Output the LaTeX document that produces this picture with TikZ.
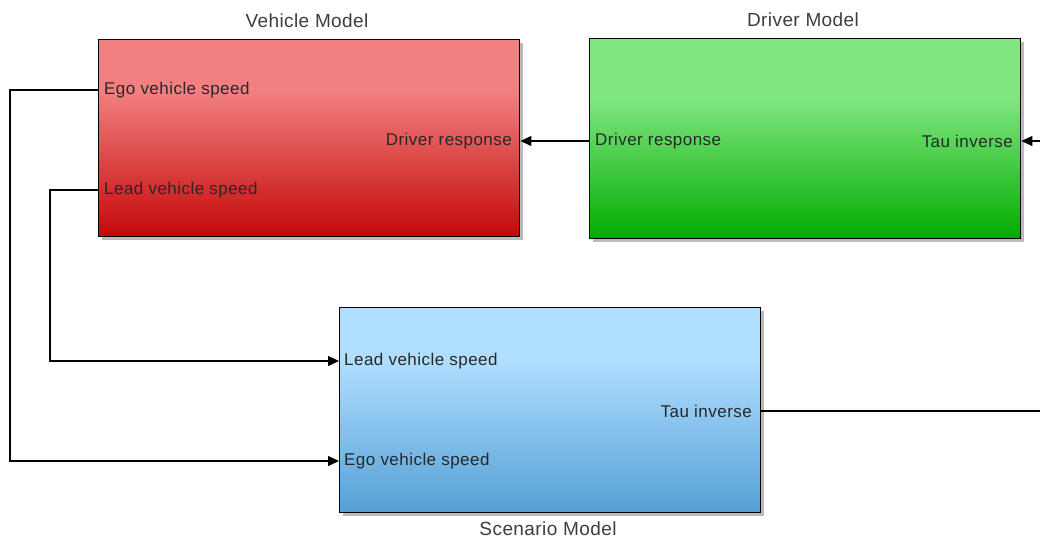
\documentclass[tikz,border=0pt]{standalone}
\usepackage{fontspec}
\setmainfont{Liberation Sans}
\newfontfamily\titlefont[LetterSpace=2.2]{Liberation Sans}
\newfontfamily\portfont[LetterSpace=2.7]{Liberation Sans}
\usepackage{tikz}
\usetikzlibrary{arrows.meta,shadows,calc}

\definecolor{vehtop}{RGB}{242,128,128}
\definecolor{vehbot}{RGB}{196,8,8}
\definecolor{drvtop}{RGB}{128,230,128}
\definecolor{drvbot}{RGB}{0,172,0}
\definecolor{scntop}{RGB}{175,222,255}
\definecolor{scnbot}{RGB}{84,160,214}
\definecolor{txtgray}{RGB}{40,40,40}

\pgfdeclareverticalshading{vehshade}{100bp}{color(0bp)=(vehbot); color(25bp)=(vehbot); color(62bp)=(vehtop); color(100bp)=(vehtop)}
\pgfdeclareverticalshading{drvshade}{100bp}{color(0bp)=(drvbot); color(25bp)=(drvbot); color(60bp)=(drvtop); color(100bp)=(drvtop)}
\pgfdeclareverticalshading{scnshade}{100bp}{color(0bp)=(scnbot); color(25bp)=(scnbot); color(62bp)=(scntop); color(100bp)=(scntop)}

\begin{document}
\begin{tikzpicture}[x=1pt,y=-1pt,
	block/.style={draw=black,line width=1.4pt,rectangle,anchor=north west,inner sep=0pt,
		drop shadow={shadow xshift=3pt,shadow yshift=-3pt,fill=black!45,opacity=0.6}},
	title/.style={font=\titlefont\fontsize{19}{21}\selectfont,text=txtgray!90!white},
	port/.style={font=\portfont\fontsize{17}{19}\selectfont,text=txtgray,inner sep=0pt},
	sig/.style={line width=1.2pt,-{Triangle[length=11pt,width=10pt]}},
	wire/.style={line width=1.2pt}]
	\useasboundingbox (0,0) rectangle (1040,540);
	% blocks
	\node[block,shading=vehshade,minimum width=421pt,minimum height=197pt] (veh) at (98,39) {};
	\node[block,shading=drvshade,minimum width=431pt,minimum height=200pt] (drv) at (589,38) {};
	\node[block,shading=scnshade,minimum width=421pt,minimum height=205pt] (scn) at (339,307) {};
	\node[title] (vehname) at (307,21) {Vehicle Model};
	\node[title] (drvname) at (803,20) {Driver Model};
	\node[title] (scnname) at (548,529) {Scenario Model};
	% ports
	\node[port,anchor=west] (vego) at (104,90) {Ego vehicle speed};
	\node[port,anchor=west] (vlead) at (104,190) {Lead vehicle speed};
	\node[port,anchor=east] (vdrv) at (512,141) {Driver response};
	\node[port,anchor=west] (ddrv) at (595,141) {Driver response};
	\node[port,anchor=east] (dtau) at (1013,141) {Tau inverse};
	\node[port,anchor=west] (slead) at (344,361) {Lead vehicle speed};
	\node[port,anchor=west] (sego) at (344,461) {Ego vehicle speed};
	\node[port,anchor=east] (stau) at (752,411) {Tau inverse};
	\coordinate (tauin) at (1040,141);
	\coordinate (tauout) at (1040,411);
	% signals
	\draw[sig] (ddrv.west -| drv.west) -- (vdrv.east -| veh.east);
	\draw[sig] (tauin) -- (dtau.east -| drv.east);
	\draw[sig] (vego.west -| veh.west) -- ++(-88,0) |- (sego.west -| scn.west);
	\draw[sig] (vlead.west -| veh.west) -- ++(-48,0) |- (slead.west -| scn.west);
	\draw[wire] (stau.east -| scn.east) -- (tauout);
\end{tikzpicture}
\end{document}
